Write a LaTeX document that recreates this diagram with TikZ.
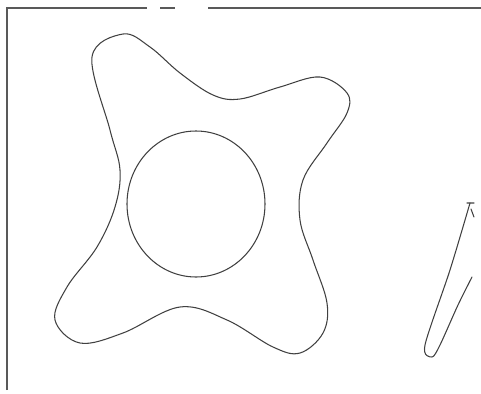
\documentclass[tikz,border=0pt]{standalone}
\usepackage{tikz}
\usetikzlibrary{calc}

\begin{document}
\begin{tikzpicture}[x=0.02cm, y=-0.02cm, outline/.style={draw=black!75, line width=0.6pt, line cap=round}, frameline/.style={draw=black!65, line width=0.7pt}]
        \useasboundingbox (0,0) rectangle (481,393);

        % Frame along the left and top edges (broken near the top middle)
        \draw[frameline] (7,390) -- (7,8) -- (147,8);
        \draw[frameline] (160,8) -- (175,8);
        \draw[frameline] (208,8) -- (481,8);

        % Four-lobed outline
        \draw[outline] plot[smooth cycle, tension=0.6] coordinates {
          (123,34) (150,47) (180,73) (213,95) (240,99) (280,87) (320,77)
          (347,93) (347,113) (327,143) (303,180) (300,220) (313,260)
          (327,303) (323,333) (300,353) (273,347) (227,320) (180,307)
          (123,333) (80,343) (55,320) (67,287) (97,247) (115,207)
          (120,170) (110,130) (92,57)
        };

        % Inner circle
        \def\cx{196}
        \def\cy{204}
        \draw[outline] (\cx,\cy) ellipse[x radius=69, y radius=73];

        % Thin sliver on the right
        \draw[outline] plot[smooth, tension=0.5] coordinates {
          (470,203) (450,270) (425,345) (432,357) (440,345) (458,305) (472,277)
        };
        \draw[outline] (467,203) -- (474,203) (471,209) -- (474,217);
      \end{tikzpicture}
\end{document}
